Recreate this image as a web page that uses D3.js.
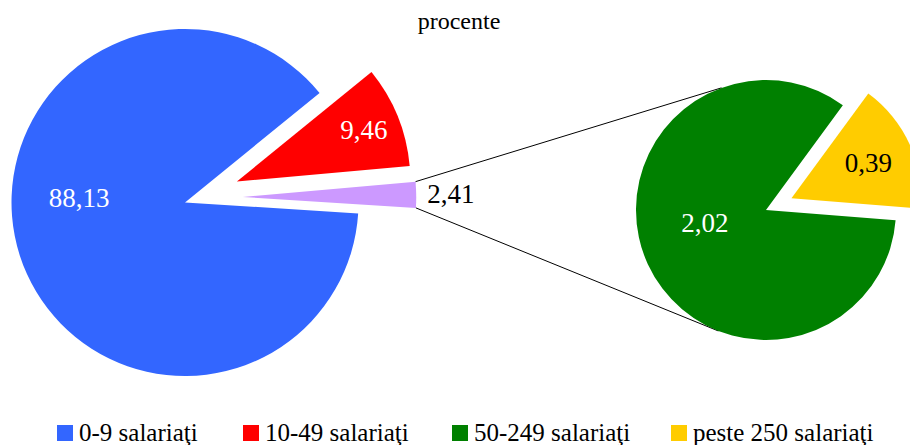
<!DOCTYPE html>
<html>
<head>
<meta charset="utf-8">
<script src="https://cdn.jsdelivr.net/npm/d3@7"></script>
<style>
  body { margin: 0; background: #fff; }
</style>
</head>
<body>
<svg id="chart" width="910" height="445"></svg>
<script>
const mainLabels = ["0-9 salariaţi", "10-49 salariaţi", "50 salariaţi şi peste"];
const mainValues = [88.13, 9.46, 2.41];
const subLabels = ["50-249 salariaţi", "peste 250 salariaţi"];
const subValues = [2.02, 0.39];
const legendLabels = ["0-9 salariaţi", "10-49 salariaţi", "50-249 salariaţi", "peste 250 salariaţi"];
const title = "procente";

const fmt = v => d3.format(".2f")(v).replace(".", ",");
const deg = a => a * Math.PI / 180;
const FONT = '"Liberation Serif"';

const mainColors = ["#3366FF", "#FF0000", "#CC99FF"];
const subColors = ["#008000", "#FFCC00"];
const legendColors = ["#3366FF", "#FF0000", "#008000", "#FFCC00"];

const svg = d3.select("#chart");

// left pie
const R1 = 173.5, cx1 = 185, cy1 = 202.5;
const mainExplode = [0, 56, 58];
const mainExplodeShift = [0, 0, -4.7];
const mainLabelR = [0.61, 0.79, 1.2];
const mainLabelShift = [20, 0, 0];
const mainLabelFill = ["#fff", "#fff", "#000"];

const pie1 = d3.pie().sort(null)
    .startAngle(deg(93.6)).endAngle(deg(93.6 + 360));
const arcs1 = pie1(mainValues);
const arc1 = d3.arc().innerRadius(0).outerRadius(R1);

const off = (d, e, s = 0) => {
    const m = (d.startAngle + d.endAngle) / 2 + deg(s);
    return [e * Math.sin(m), -e * Math.cos(m)];
};

const g1 = svg.append("g").attr("transform", `translate(${cx1},${cy1})`);
g1.selectAll("path")
    .data(arcs1)
    .join("path")
    .attr("transform", (d, i) => `translate(${off(d, mainExplode[i], mainExplodeShift[i])})`)
    .attr("d", arc1)
    .attr("fill", (d, i) => mainColors[i]);

g1.selectAll("text")
    .data(arcs1)
    .join("text")
    .attr("transform", (d, i) => {
        const [ox, oy] = off(d, mainExplode[i], mainExplodeShift[i]);
        const m = (d.startAngle + d.endAngle) / 2 + deg(mainLabelShift[i]);
        const r = R1 * mainLabelR[i];
        return `translate(${ox + r * Math.sin(m)},${oy - r * Math.cos(m)})`;
    })
    .attr("text-anchor", "middle")
    .attr("dominant-baseline", "central")
    .style("font-family", FONT)
    .style("font-size", "27px")
    .attr("fill", (d, i) => mainLabelFill[i])
    .text(d => fmt(d.data));

// right pie
const R2 = 130, cx2 = 766, cy2 = 210;
const subExplode = [0, 28];
const subLabelR = [0.48, 0.65];
const subLabelShift = [13, 0];
const subLabelFill = ["#fff", "#000"];

const pie2 = d3.pie().sort(null)
    .startAngle(deg(94.5)).endAngle(deg(94.5 + 360));
const arcs2 = pie2(subValues);
const arc2 = d3.arc().innerRadius(0).outerRadius(R2);

// connector lines from the aggregated slice to the second pie
const agg = arcs1[2];
const [ax, ay] = off(agg, mainExplode[2], mainExplodeShift[2]);
const connAngles = [deg(-20), deg(201.5)];
[agg.startAngle, agg.endAngle].forEach((a, i) => {
    svg.append("line")
        .attr("x1", cx1 + ax + R1 * Math.sin(a))
        .attr("y1", cy1 + ay - R1 * Math.cos(a))
        .attr("x2", cx2 + R2 * Math.sin(connAngles[i]))
        .attr("y2", cy2 - R2 * Math.cos(connAngles[i]))
        .attr("stroke", "#000")
        .attr("stroke-width", 1);
});

const g2 = svg.append("g").attr("transform", `translate(${cx2},${cy2})`);
g2.selectAll("path")
    .data(arcs2)
    .join("path")
    .attr("transform", (d, i) => `translate(${off(d, subExplode[i])})`)
    .attr("d", arc2)
    .attr("fill", (d, i) => subColors[i]);

g2.selectAll("text")
    .data(arcs2)
    .join("text")
    .attr("transform", (d, i) => {
        const [ox, oy] = off(d, subExplode[i]);
        const m = (d.startAngle + d.endAngle) / 2 + deg(subLabelShift[i]);
        const r = R2 * subLabelR[i];
        return `translate(${ox + r * Math.sin(m)},${oy - r * Math.cos(m)})`;
    })
    .attr("text-anchor", "middle")
    .attr("dominant-baseline", "central")
    .style("font-family", FONT)
    .style("font-size", "27px")
    .attr("fill", (d, i) => subLabelFill[i])
    .text(d => fmt(d.data));

// title
svg.append("text")
    .attr("x", 459)
    .attr("y", 29)
    .attr("text-anchor", "middle")
    .style("font-family", FONT)
    .style("font-size", "24px")
    .text(title);

// legend
const legendX = [57, 243, 452, 671];
const legend = svg.selectAll(".legend-item")
    .data(legendLabels)
    .join("g")
    .attr("class", "legend-item")
    .attr("transform", (d, i) => `translate(${legendX[i]}, 425)`);

legend.append("rect")
    .attr("width", 16)
    .attr("height", 16)
    .attr("fill", (d, i) => legendColors[i]);

legend.append("text")
    .attr("x", 22)
    .attr("y", 16)
    .style("font-family", FONT)
    .style("font-size", "25px")
    .text(d => d);
</script>
</body>
</html>
